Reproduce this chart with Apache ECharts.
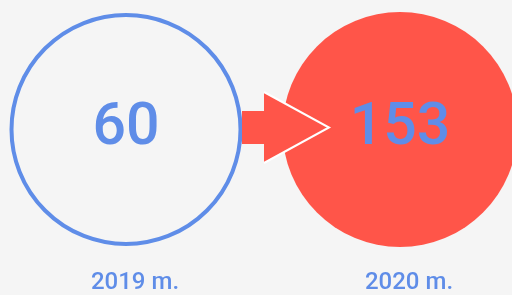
<!DOCTYPE html>
<html>
<head>
<meta charset="utf-8">
<script src="https://cdn.jsdelivr.net/npm/echarts@6/dist/echarts.min.js"></script>
<style>
  html, body { margin: 0; padding: 0; background: #f5f5f5; }
  #chart { width: 512px; height: 295px; }
</style>
</head>
<body>
<div id="chart"></div>
<script>
// du metai, dvi reikšmės
const years = ["2019 m.", "2020 m."];
const values = [60, 153];

const BLUE = "#5f8de8";
const RED = "#ff5549";
const BG = "#f5f5f5";

const chart = echarts.init(document.getElementById("chart"), null, { renderer: "canvas" });

// apskritimų stilius: pirmas — tuščias su kontūru, antras — užpildytas
const circleStyle = [
  { size: 229, itemStyle: { color: BG, borderColor: BLUE, borderWidth: 4, opacity: 1 } },
  { size: 235, itemStyle: { color: RED, borderWidth: 0, opacity: 1 } }
];

chart.setOption({
  backgroundColor: BG,
  animation: false,
  textStyle: { fontFamily: "Roboto" },
  grid: { left: 126, right: 112, top: 0, height: 259 },
  xAxis: {
    type: "category",
    data: years,
    boundaryGap: false,
    axisLine: { show: false },
    axisTick: { show: false },
    splitLine: { show: false },
    axisLabel: {
      color: BLUE,
      fontSize: 24,
      fontWeight: 500,
      fontFamily: "Roboto",
      margin: 12,
      padding: [0, 0, 0, 18]
    }
  },
  yAxis: { type: "value", min: -1, max: 1, show: false },
  series: [
    {
      type: "scatter",
      symbol: "circle",
      z: 2,
      data: values.map((v, i) => ({
        value: [i, 0, v],
        symbolSize: circleStyle[i].size,
        itemStyle: circleStyle[i].itemStyle
      })),
      emphasis: { disabled: true },
      label: {
        show: true,
        position: "inside",
        color: BLUE,
        fontSize: 59,
        fontWeight: 500,
        fontFamily: "Roboto",
        formatter: (p) => String(p.value[2])
      }
    },
    {
      // rodyklė tarp dviejų apskritimų
      type: "custom",
      z: 3,
      data: [[0, 0]],
      renderItem: (params, api) => {
        const p0 = api.coord([0, 0]);
        const x0 = p0[0] + 116;
        const xb = x0 + 22;
        const xt = x0 + 87;
        const cy = p0[1] - 2;
        return {
          type: "group",
          children: [
            {
              type: "polygon",
              shape: {
                points: [
                  [x0, cy - 16.5], [xb, cy - 16.5], [xb, cy - 35.5], [xt, cy],
                  [xb, cy + 35.5], [xb, cy + 16.5], [x0, cy + 16.5]
                ]
              },
              style: { fill: RED }
            },
            {
              type: "polyline",
              shape: { points: [[xb, cy - 35.5], [xt, cy], [xb, cy + 35.5]] },
              style: { fill: null, stroke: "#ffffff", lineWidth: 2, lineJoin: "miter" }
            }
          ]
        };
      }
    }
  ]
});
</script>
</body>
</html>
